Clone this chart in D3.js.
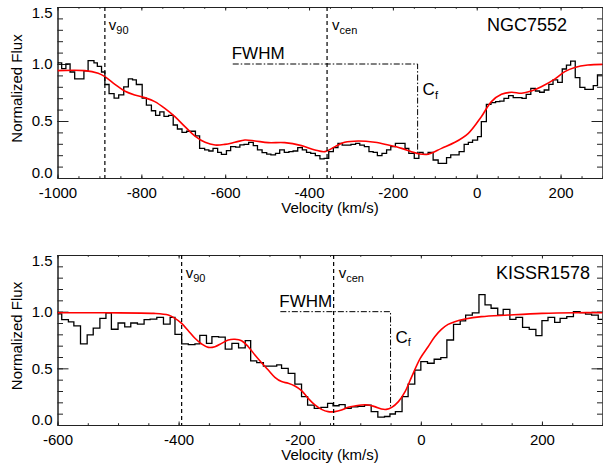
<!DOCTYPE html>
<html>
<head>
<meta charset="utf-8">
<script src="https://d3js.org/d3.v7.min.js"></script>
<style>
body { margin: 0; background: #fff; }
svg text { font-family: "Liberation Sans", Arial, Helvetica, sans-serif; fill: #000; }
</style>
</head>
<body>
<svg id="chart" width="603" height="463"></svg>
<script>
// ---- NGC7552 : binned spectrum (bin start velocity, flux) ----
const ngcStepVel = [-1000,-990,-980,-970,-959,-937,-927,-913,-905,-895,-887,-877,-865,-854,-842,-831,-821,-812,
  -798,-788,-776,-766,-756,-746,-735,-724,-714,-703,-692,-681,-671,-661,-649,-639,-629,-618,-609,-597,-587,
  -575,-565,-555,-544,-533,-523,-512,-501,-491,-480,-470,-459,-448,-438,-427,-416,-406,-396,-385,-374,-364,
  -353,-342,-331,-321,-311,-300,-289,-279,-268,-257,-247,-237,-226,-215,-205,-194,-183,-171,-162,-149,-138,
  -128,-116,-104,-92,-72,-62,-42,-30,-20,-10,2,11,23,34,45,55,65,76,87,97,108,118,129,140,150,161,172,182,
  193,204,214,224,235,246,258,267,278,288];
const ngcStepFlux = [1.01,0.96,1.00,0.93,0.87,0.94,1.03,1.01,0.98,0.93,0.82,0.74,0.70,0.73,0.80,0.87,0.86,0.82,
  0.70,0.64,0.59,0.55,0.58,0.54,0.55,0.465,0.43,0.40,0.41,0.41,0.37,0.26,0.246,0.237,0.26,0.225,0.208,0.24,0.275,
  0.27,0.29,0.295,0.313,0.284,0.246,0.222,0.21,0.202,0.216,0.246,0.225,0.231,0.237,0.266,0.246,0.225,0.216,0.196,
  0.167,0.173,0.231,0.266,0.304,0.289,0.289,0.295,0.304,0.289,0.275,0.231,0.225,0.196,0.216,0.246,0.275,0.304,
  0.304,0.26,0.216,0.173,0.225,0.208,0.225,0.158,0.129,0.178,0.202,0.231,0.295,0.313,0.333,0.363,0.494,0.646,
  0.661,0.67,0.675,0.699,0.722,0.705,0.705,0.699,0.734,0.787,0.763,0.752,0.772,0.822,0.86,0.839,0.956,0.991,
  1.026,0.88,0.795,0.778,0.778,0.81,0.904];
// ---- NGC7552 : model fit ----
const ngcFitVel = [-1000,-935,-903,-887,-863,-840,-816,-792,-768,-744,-720,-696,-672,-648,-624,-601,-577,-553,
  -529,-497,-458,-418,-386,-362,-338,-315,-283,-243,-211,-179,-156,-136,-116,-84,-52,-20,11,35,59,83,107,130,
  154,186,210,234,265,300];
const ngcFitFlux = [0.942,0.942,0.918,0.889,0.822,0.763,0.728,0.705,0.67,0.611,0.538,0.45,0.368,0.313,0.289,
  0.295,0.313,0.333,0.325,0.31,0.31,0.284,0.246,0.231,0.275,0.313,0.325,0.313,0.289,0.26,0.231,0.21,0.208,0.26,
  0.313,0.392,0.538,0.67,0.734,0.752,0.743,0.763,0.801,0.868,0.933,0.97,0.991,0.997];

// ---- KISSR1578 : binned spectrum ----
const kisStepVel = [-600,-593,-582,-573,-562,-551,-541,-530,-520,-511,-500,-489,-479,-468,-457,-447,-436,-425,
  -414,-406,-395,-384,-373,-365,-354,-345,-334,-323,-312,-301,-290,-281,-271,-260,-249,-238,-230,-219,-208,
  -197,-187,-176,-165,-154,-145,-135,-125,-115,-104,-93,-82,-71,-60,-51,-42,-31,-21,-10,0,11,22,33,43,54,65,
  74,85,96,106,116,127,136,147,157,168,179,190,200,210,221,230,241,252,263,272,282,293];
const kisStepFlux = [0.98,0.93,0.91,0.875,0.715,0.795,0.855,0.94,0.99,0.845,0.90,0.865,0.90,0.89,0.93,0.935,
  0.95,0.89,0.95,0.80,0.715,0.71,0.715,0.79,0.72,0.78,0.775,0.67,0.72,0.68,0.745,0.565,0.55,0.52,0.52,0.53,
  0.50,0.455,0.36,0.25,0.175,0.147,0.155,0.19,0.17,0.18,0.147,0.16,0.165,0.175,0.118,0.07,0.075,0.097,0.118,
  0.25,0.36,0.485,0.56,0.545,0.58,0.595,0.75,0.888,0.918,0.97,0.99,1.15,1.06,1.03,0.97,1.02,0.932,0.95,0.862,
  0.844,0.788,0.921,0.95,0.906,0.941,0.956,1.0,0.991,0.979,0.97,0.932];
// ---- KISSR1578 : model fit ----
const kisFitVel = [-600,-520,-441,-417,-406,-395,-384,-373,-362,-351,-340,-329,-318,-307,-296,-285,-274,-263,
  -252,-241,-230,-219,-208,-197,-186,-175,-164,-153,-142,-131,-120,-109,-98,-87,-76,-65,-57,-48,-37,-26,-15,
  -1,12,23,34,45,56,73,100,144,200,255,300];
const kisFitFlux = [0.99,0.99,0.985,0.97,0.941,0.897,0.832,0.765,0.715,0.685,0.691,0.72,0.75,0.756,0.744,0.691,
  0.618,0.55,0.485,0.421,0.383,0.368,0.344,0.303,0.235,0.177,0.138,0.118,0.118,0.132,0.156,0.168,0.177,0.177,
  0.162,0.141,0.138,0.156,0.206,0.294,0.427,0.588,0.691,0.779,0.844,0.888,0.912,0.935,0.956,0.97,0.985,0.991,0.991];

// tick labels
const yTickVals = [0, 0.5, 1.0, 1.5];
const ngcXTicks = [-1000, -800, -600, -400, -200, 0, 200];
const kisXTicks = [-600, -400, -200, 0, 200];

const svg = d3.select("#chart");

const panels = [
  { name: "NGC7552", xDom: [-1000, 300], top: 7, bottom: 178, xTicks: ngcXTicks,
    stepVel: ngcStepVel, stepFlux: ngcStepFlux, fitVel: ngcFitVel, fitFlux: ngcFitFlux,
    v90: -887, vcen: -357, fwhm: [-582, -141], cfLow: 0.22 },
  { name: "KISSR1578", xDom: [-600, 300], top: 255, bottom: 425, xTicks: kisXTicks,
    stepVel: kisStepVel, stepFlux: kisStepFlux, fitVel: kisFitVel, fitFlux: kisFitFlux,
    v90: -395, vcen: -144, fwhm: [-232, -50], cfLow: 0.155 }
];

const left = 57.5, right = 602.5;

panels.forEach((p, i) => {
  const x = d3.scaleLinear().domain(p.xDom).range([left, right]);
  const y = d3.scaleLinear().domain([0, 1.5]).range([p.bottom, p.top]);
  const g = svg.append("g");

  const clipId = "clip" + i;
  svg.append("clipPath").attr("id", clipId).append("rect")
     .attr("x", left).attr("y", p.top).attr("width", right - left).attr("height", p.bottom - p.top);

  const minorX = d3.range(p.xDom[0], p.xDom[1] + 1, 50);
  const minorY = d3.range(0, 1.51, 0.1);

  // bottom axis with labels
  g.append("g").attr("transform", `translate(0,${p.bottom})`)
    .call(d3.axisBottom(x).tickValues(p.xTicks).tickSize(-3.5).tickSizeOuter(0).tickPadding(9)
      .tickFormat(d => String(d)))
    .call(a => a.selectAll("text").style("font-size", "15px"));
  g.append("g").attr("transform", `translate(0,${p.bottom})`)
    .call(d3.axisBottom(x).tickValues(minorX).tickSize(-1.8).tickSizeOuter(0).tickFormat(""));
  // top mirror
  g.append("g").attr("transform", `translate(0,${p.top})`)
    .call(d3.axisTop(x).tickValues(p.xTicks).tickSize(-3.5).tickSizeOuter(0).tickFormat(""));
  g.append("g").attr("transform", `translate(0,${p.top})`)
    .call(d3.axisTop(x).tickValues(minorX).tickSize(-1.8).tickSizeOuter(0).tickFormat(""));
  // left axis with labels
  g.append("g").attr("transform", `translate(${left},0)`)
    .call(d3.axisLeft(y).tickValues(yTickVals).tickSize(-11).tickSizeOuter(0).tickPadding(5)
      .tickFormat(d3.format(".1f")))
    .call(a => a.selectAll("text").style("font-size", "15px")
      .attr("y", d => d === 1.5 ? 5.5 : d === 0 ? -5 : 0));
  g.append("g").attr("transform", `translate(${left},0)`)
    .call(d3.axisLeft(y).tickValues(minorY).tickSize(-5.5).tickSizeOuter(0).tickFormat(""));
  // right mirror
  g.append("g").attr("transform", `translate(${right},0)`)
    .call(d3.axisRight(y).tickValues(yTickVals).tickSize(-11).tickSizeOuter(0).tickFormat(""));
  g.append("g").attr("transform", `translate(${right},0)`)
    .call(d3.axisRight(y).tickValues(minorY).tickSize(-5.5).tickSizeOuter(0).tickFormat(""));

  g.selectAll(".domain, .tick line").attr("stroke", "#222").attr("stroke-width", 1);

  // histogram
  const steps = p.stepVel.map((v, k) => [v, p.stepFlux[k]]);
  steps.push([p.xDom[1], p.stepFlux[p.stepFlux.length - 1]]);
  g.append("path").attr("clip-path", `url(#${clipId})`)
    .attr("d", d3.line().x(d => x(d[0])).y(d => y(d[1])).curve(d3.curveStepAfter)(steps))
    .attr("fill", "none").attr("stroke", "#000").attr("stroke-width", 1.3);

  // fit
  const fit = p.fitVel.map((v, k) => [v, p.fitFlux[k]]);
  g.append("path").attr("clip-path", `url(#${clipId})`)
    .attr("d", d3.line().x(d => x(d[0])).y(d => y(d[1])).curve(d3.curveCatmullRom.alpha(0.5))(fit))
    .attr("fill", "none").attr("stroke", "#ff0000").attr("stroke-width", 1.6);

  // v90 / vcen dashed lines
  [p.v90, p.vcen].forEach(v => {
    g.append("line").attr("x1", x(v)).attr("x2", x(v)).attr("y1", p.top).attr("y2", p.bottom)
      .attr("stroke", "#000").attr("stroke-width", 1.2).attr("stroke-dasharray", "4,3");
  });

  // FWHM and Cf dash-dot
  g.append("path")
    .attr("d", `M${x(p.fwhm[0])},${y(1)}H${x(p.fwhm[1])}V${y(p.cfLow)}`)
    .attr("fill", "none").attr("stroke", "#000").attr("stroke-width", 1)
    .attr("stroke-dasharray", "6,2,1.5,2");

  // labels
  const lab = (xx, yy, main, sub, size, subSize) => {
    const t = g.append("text").attr("x", xx).attr("y", yy).style("font-size", size + "px").text(main);
    if (sub) t.append("tspan").attr("dy", 3.5).style("font-size", subSize + "px").text(sub);
  };
  lab(x(p.v90) + 4, p.top + 23, "v", "90", 15, 11);
  lab(x(p.vcen) + 5, p.top + 23, "v", "cen", 15, 11);
  g.append("text").attr("x", x(p.fwhm[0]) - 1).attr("y", y(1) - 5)
    .style("font-size", "17px").text("FWHM");
  lab(x(p.fwhm[1]) + 5, y(1) + 31, "C", "f", 17, 11);
  g.append("text").attr("x", i === 0 ? 567 : 590).attr("y", p.top + 24)
    .attr("text-anchor", "end").style("font-size", "18px").text(p.name);

  g.append("text").attr("x", 330).attr("y", p.bottom + 35).attr("text-anchor", "middle")
    .style("font-size", "15px").text("Velocity (km/s)");
  g.append("text").attr("transform", `translate(22,${(p.top + p.bottom) / 2 - 4}) rotate(-90)`)
    .attr("text-anchor", "middle").style("font-size", "15px").text("Normalized Flux");
});
</script>
</body>
</html>
